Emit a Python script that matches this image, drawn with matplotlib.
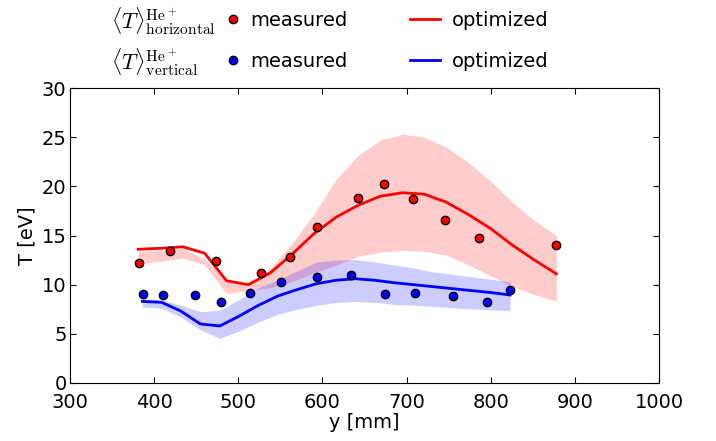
import numpy as np
import matplotlib
matplotlib.use('Agg')
import matplotlib.pyplot as plt
from matplotlib.lines import Line2D

plt.rcParams['font.family'] = 'DejaVu Sans'
plt.rcParams['font.size'] = 14
plt.rcParams['mathtext.fontset'] = 'cm'

# horizontal port, He+ temperature
y_h_meas = [382, 419, 474, 527, 561, 594, 642, 673, 708, 746, 786, 878]
T_h_meas = [12.2, 13.4, 12.4, 11.2, 12.8, 15.9, 18.85, 20.2, 18.75, 16.6, 14.7, 14.0]

y_h_opt = [381, 408, 434, 460, 486, 512, 538, 564, 590, 617,
           643, 669, 695, 721, 747, 774, 800, 826, 852, 878]
T_h_opt = [13.6, 13.7, 13.85, 13.2, 10.4, 10.0, 11.2, 13.1, 15.2, 16.9,
           18.1, 19.0, 19.35, 19.2, 18.4, 17.1, 15.7, 14.0, 12.5, 11.1]
T_h_hi = [13.4, 13.5, 13.7, 12.6, 10.4, 10.0, 11.7, 14.2, 17.2, 20.8,
          23.2, 24.7, 25.3, 25.0, 24.0, 22.4, 20.5, 18.4, 16.5, 15.0]
T_h_lo = [12.1, 12.4, 12.7, 12.0, 9.1, 9.4, 9.7, 10.3, 11.2, 12.0,
          12.9, 13.3, 13.5, 13.4, 13.0, 12.0, 10.9, 9.8, 9.0, 8.3]

# vertical port, He+ temperature
y_v_meas = [387, 410, 449, 479, 514, 551, 593, 634, 674, 710, 755, 795, 823]
T_v_meas = [9.1, 8.95, 9.0, 8.2, 9.2, 10.3, 10.8, 11.0, 9.07, 9.17, 8.8, 8.2, 9.5]

y_v_opt = [386, 409, 432, 455, 478, 501, 524, 547, 570, 593,
           616, 639, 662, 685, 708, 731, 754, 777, 800, 823]
T_v_opt = [8.3, 8.2, 7.3, 6.0, 5.8, 6.8, 7.9, 8.85, 9.5, 10.1,
           10.45, 10.6, 10.45, 10.2, 10.0, 9.8, 9.6, 9.4, 9.2, 8.95]
T_v_hi = [8.6, 8.45, 7.9, 7.25, 7.4, 8.5, 9.7, 10.5, 11.4, 12.3,
          12.5, 12.55, 12.3, 12.0, 11.7, 11.3, 11.05, 10.8, 10.55, 10.3]
T_v_lo = [7.75, 7.6, 6.7, 5.4, 4.55, 5.3, 6.2, 7.0, 7.5, 7.9,
          8.2, 8.3, 8.2, 8.0, 7.9, 7.8, 7.65, 7.55, 7.45, 7.35]

fig = plt.figure(figsize=(7.16, 4.41), dpi=100)
ax = fig.add_axes([70/716., 58/441., 589/716., 295/441.])

ax.fill_between(y_h_opt, T_h_lo, T_h_hi, color='red', alpha=0.2, lw=0)
ax.fill_between(y_v_opt, T_v_lo, T_v_hi, color='blue', alpha=0.2, lw=0)
ax.plot(y_h_opt, T_h_opt, '-', color='red', lw=2)
ax.plot(y_v_opt, T_v_opt, '-', color='blue', lw=2)
ax.plot(y_h_meas, T_h_meas, 'o', color='red', mec='black', ms=6)
ax.plot(y_v_meas, T_v_meas, 'o', color='blue', mec='black', ms=6)

ax.set_xlim(300, 1000)
ax.set_ylim(0, 30)
ax.set_xlabel('y [mm]', labelpad=0.5)
ax.set_ylabel('T [eV]')
ax.tick_params(direction='in', top=True, right=True, length=4)
ax.tick_params(axis='x', pad=7.5)
ax.tick_params(axis='y', pad=2.5)

# legend: markers and lines in two separate blocks, math labels as text
dot_r = Line2D([], [], ls='none', marker='o', color='red', mec='black', ms=6)
dot_b = Line2D([], [], ls='none', marker='o', color='blue', mec='black', ms=6)
ln_r = Line2D([], [], color='red', lw=2)
ln_b = Line2D([], [], color='blue', lw=2)

fig.legend([dot_r, dot_b], ['measured', 'measured'], loc='center left',
           bbox_to_anchor=(223/716., 1 - 41/441.), frameon=False,
           numpoints=1, handlelength=1.0, handletextpad=0.4,
           labelspacing=1.15, borderpad=0, borderaxespad=0)
fig.legend([ln_r, ln_b], ['optimized', 'optimized'], loc='center left',
           bbox_to_anchor=(410/716., 1 - 41/441.), frameon=False,
           handlelength=1.55, handletextpad=0.6,
           labelspacing=1.15, borderpad=0, borderaxespad=0)

fig.text(111/716., 1 - 29/441., r'$\langle T\rangle^{\mathrm{He}^+}_{\mathrm{horizontal}}$',
         ha='left', va='baseline', fontsize=16)
fig.text(111/716., 1 - 70/441., r'$\langle T\rangle^{\mathrm{He}^+}_{\mathrm{vertical}}$',
         ha='left', va='baseline', fontsize=16)

fig.savefig('out.png', dpi=100, facecolor='white')
